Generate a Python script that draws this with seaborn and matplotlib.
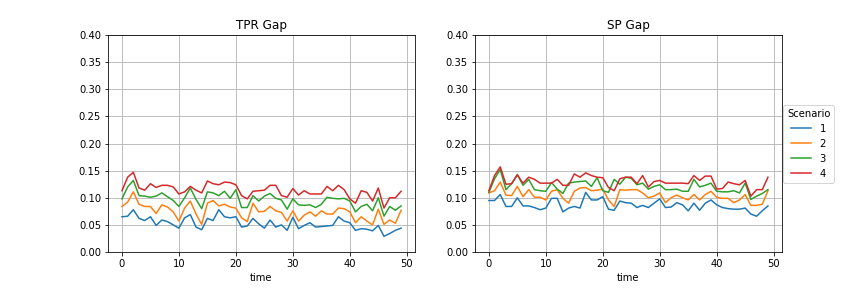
import numpy as np
import pandas as pd
import matplotlib
matplotlib.use("Agg")
import matplotlib.pyplot as plt
import seaborn as sns

time = list(range(50))
scenarios = ["1", "2", "3", "4"]

# TPR gap per scenario
tpr_1 = [0.065, 0.066, 0.078, 0.062, 0.058, 0.065, 0.049, 0.059, 0.056, 0.050,
         0.044, 0.063, 0.069, 0.046, 0.041, 0.062, 0.058, 0.078, 0.065, 0.063,
         0.065, 0.046, 0.048, 0.062, 0.052, 0.044, 0.059, 0.046, 0.050, 0.040,
         0.064, 0.043, 0.049, 0.054, 0.046, 0.047, 0.048, 0.049, 0.065, 0.057,
         0.054, 0.040, 0.043, 0.042, 0.039, 0.049, 0.029, 0.034, 0.040, 0.044]
tpr_2 = [0.084, 0.092, 0.111, 0.088, 0.084, 0.084, 0.071, 0.087, 0.083, 0.074,
         0.057, 0.081, 0.094, 0.070, 0.051, 0.090, 0.095, 0.085, 0.088, 0.083,
         0.081, 0.063, 0.056, 0.090, 0.074, 0.075, 0.084, 0.076, 0.073, 0.057,
         0.076, 0.057, 0.068, 0.074, 0.066, 0.076, 0.070, 0.070, 0.081, 0.080,
         0.074, 0.054, 0.065, 0.057, 0.050, 0.079, 0.051, 0.059, 0.053, 0.077]
tpr_3 = [0.098, 0.120, 0.132, 0.104, 0.103, 0.101, 0.103, 0.109, 0.102, 0.095,
         0.084, 0.100, 0.118, 0.097, 0.080, 0.111, 0.109, 0.104, 0.112, 0.099,
         0.115, 0.082, 0.082, 0.104, 0.094, 0.103, 0.108, 0.099, 0.096, 0.079,
         0.098, 0.087, 0.086, 0.087, 0.082, 0.088, 0.101, 0.099, 0.098, 0.099,
         0.094, 0.074, 0.084, 0.088, 0.076, 0.100, 0.066, 0.084, 0.077, 0.085]
tpr_4 = [0.113, 0.138, 0.147, 0.118, 0.114, 0.126, 0.119, 0.123, 0.123, 0.120,
         0.107, 0.111, 0.121, 0.114, 0.109, 0.131, 0.126, 0.124, 0.129, 0.128,
         0.124, 0.104, 0.098, 0.112, 0.113, 0.114, 0.123, 0.123, 0.104, 0.101,
         0.117, 0.105, 0.113, 0.107, 0.107, 0.107, 0.121, 0.113, 0.123, 0.115,
         0.098, 0.090, 0.113, 0.110, 0.094, 0.118, 0.081, 0.100, 0.100, 0.112]

# SP gap per scenario
sp_1 = [0.095, 0.095, 0.106, 0.084, 0.084, 0.100, 0.085, 0.085, 0.082, 0.078,
        0.081, 0.099, 0.099, 0.074, 0.081, 0.084, 0.081, 0.110, 0.096, 0.096,
        0.102, 0.079, 0.077, 0.094, 0.091, 0.090, 0.082, 0.086, 0.082, 0.090,
        0.098, 0.082, 0.083, 0.091, 0.087, 0.076, 0.090, 0.077, 0.090, 0.096,
        0.087, 0.082, 0.080, 0.079, 0.079, 0.081, 0.070, 0.066, 0.076, 0.085]
sp_2 = [0.109, 0.113, 0.129, 0.105, 0.104, 0.121, 0.102, 0.115, 0.101, 0.101,
        0.096, 0.112, 0.115, 0.099, 0.090, 0.112, 0.118, 0.119, 0.113, 0.114,
        0.116, 0.096, 0.084, 0.115, 0.114, 0.115, 0.115, 0.109, 0.100, 0.103,
        0.109, 0.091, 0.100, 0.105, 0.100, 0.096, 0.106, 0.096, 0.106, 0.112,
        0.101, 0.099, 0.099, 0.091, 0.096, 0.106, 0.086, 0.086, 0.088, 0.113]
sp_3 = [0.110, 0.135, 0.152, 0.115, 0.126, 0.143, 0.123, 0.134, 0.115, 0.113,
        0.112, 0.128, 0.116, 0.108, 0.127, 0.129, 0.130, 0.131, 0.121, 0.137,
        0.113, 0.110, 0.134, 0.125, 0.138, 0.136, 0.124, 0.127, 0.116, 0.121,
        0.124, 0.115, 0.115, 0.116, 0.112, 0.112, 0.134, 0.120, 0.123, 0.127,
        0.112, 0.111, 0.111, 0.113, 0.109, 0.127, 0.097, 0.103, 0.108, 0.115]
sp_4 = [0.113, 0.141, 0.157, 0.125, 0.126, 0.142, 0.127, 0.138, 0.134, 0.127,
        0.127, 0.127, 0.134, 0.123, 0.123, 0.144, 0.138, 0.146, 0.141, 0.138,
        0.137, 0.119, 0.113, 0.135, 0.138, 0.138, 0.126, 0.141, 0.120, 0.130,
        0.132, 0.127, 0.127, 0.127, 0.127, 0.126, 0.141, 0.132, 0.140, 0.140,
        0.116, 0.117, 0.129, 0.126, 0.124, 0.132, 0.103, 0.115, 0.115, 0.138]


def to_long(series):
    rows = []
    for name, vals in zip(scenarios, series):
        for t, v in zip(time, vals):
            rows.append({"time": t, "value": v, "Scenario": name})
    return pd.DataFrame(rows)


tpr_df = to_long([tpr_1, tpr_2, tpr_3, tpr_4])
sp_df = to_long([sp_1, sp_2, sp_3, sp_4])

palette = dict(zip(scenarios, sns.color_palette("tab10", 4)))

fig, axes = plt.subplots(1, 2, figsize=(12, 4), dpi=72)
plt.subplots_adjust(left=0.125, right=0.905, bottom=0.125, top=0.878, wspace=0.195)

for ax, df, title in zip(axes, [tpr_df, sp_df], ["TPR Gap", "SP Gap"]):
    sns.lineplot(data=df, x="time", y="value", hue="Scenario",
                 palette=palette, ax=ax, legend=(ax is axes[1]))
    ax.set_title(title)
    ax.set_ylim(0, 0.40)
    ax.set_yticks(np.arange(0, 0.401, 0.05))
    ax.set_xticks([0, 10, 20, 30, 40, 50])
    ax.set_ylabel("")
    ax.set_xlabel("time")
    ax.grid(True)

sns.move_legend(axes[1], "center left", bbox_to_anchor=(1.0, 0.5),
                title="Scenario", borderaxespad=0.1)

plt.savefig("out.png", dpi=72)
plt.close()
